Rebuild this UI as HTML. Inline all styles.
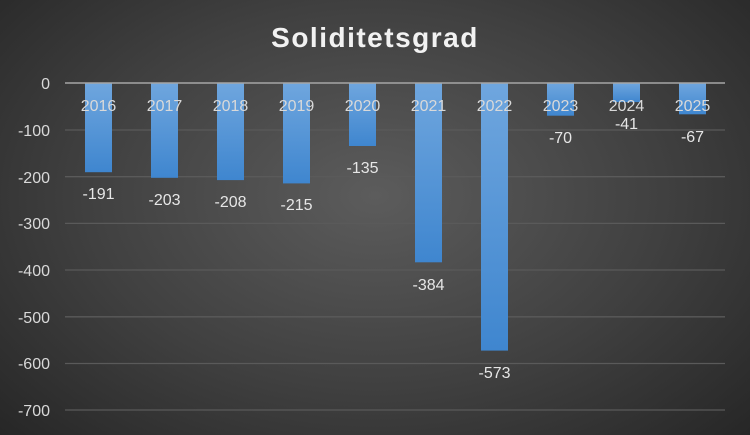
<!DOCTYPE html>
<html><head><meta charset="utf-8"><style>
html,body{margin:0;padding:0}
body{width:750px;height:435px;overflow:hidden;background:radial-gradient(ellipse 70% 80% at 50% 45%,#5c5c5c 0%,#404040 55%,#262626 100%);font-family:"Liberation Sans",sans-serif}
</style></head><body>
<svg width="750" height="435" xmlns="http://www.w3.org/2000/svg" style="position:absolute;left:0;top:0">
<defs><linearGradient id="g" x1="0" y1="0" x2="0" y2="1"><stop offset="0" stop-color="#6fa6de"/><stop offset="1" stop-color="#3f86cf"/></linearGradient></defs>
<text x="375" y="47" text-anchor="middle" font-size="28" font-weight="bold" fill="#f2f2f2" letter-spacing="1.5">Soliditetsgrad</text>
<g stroke="#5a5a5a" stroke-width="1.3">
<line x1="65" x2="725" y1="130" y2="130"/><line x1="65" x2="725" y1="176.7" y2="176.7"/><line x1="65" x2="725" y1="223.4" y2="223.4"/><line x1="65" x2="725" y1="270" y2="270"/><line x1="65" x2="725" y1="316.8" y2="316.8"/><line x1="65" x2="725" y1="363.5" y2="363.5"/><line x1="65" x2="725" y1="410" y2="410"/>
</g>
<g font-size="16" fill="#d9d9d9" text-anchor="end">
<text x="50" y="89">0</text><text x="50" y="136">-100</text><text x="50" y="183">-200</text><text x="50" y="229">-300</text><text x="50" y="276">-400</text><text x="50" y="323">-500</text><text x="50" y="369">-600</text><text x="50" y="416">-700</text>
</g>
<g fill="url(#g)">
<rect x="85" y="83" width="27" height="89.2"/>
<rect x="151" y="83" width="27" height="94.8"/>
<rect x="217" y="83" width="27" height="97.1"/>
<rect x="283" y="83" width="27" height="100.4"/>
<rect x="349" y="83" width="27" height="63"/>
<rect x="415" y="83" width="27" height="179.3"/>
<rect x="481" y="83" width="27" height="267.6"/>
<rect x="547" y="83" width="27" height="32.7"/>
<rect x="613" y="83" width="27" height="19.1"/>
<rect x="679" y="83" width="27" height="31.3"/>
</g>
<line x1="65" x2="725" y1="83" y2="83" stroke="#a6a6a6" stroke-width="1.5"/>
<g font-size="16" fill="#d9d9d9" text-anchor="middle">
<text x="98.5" y="111">2016</text><text x="164.5" y="111">2017</text><text x="230.5" y="111">2018</text><text x="296.5" y="111">2019</text><text x="362.5" y="111">2020</text><text x="428.5" y="111">2021</text><text x="494.5" y="111">2022</text><text x="560.5" y="111">2023</text><text x="626.5" y="111">2024</text><text x="692.5" y="111">2025</text>
</g>
<g font-size="16" fill="#e6e6e6" text-anchor="middle">
<text x="98.5" y="199">-191</text><text x="164.5" y="205">-203</text><text x="230.5" y="207">-208</text><text x="296.5" y="210">-215</text><text x="362.5" y="173">-135</text><text x="428.5" y="290">-384</text><text x="494.5" y="378">-573</text><text x="560.5" y="143">-70</text><text x="626.5" y="129">-41</text><text x="692.5" y="142">-67</text>
</g>
</svg>
</body></html>
